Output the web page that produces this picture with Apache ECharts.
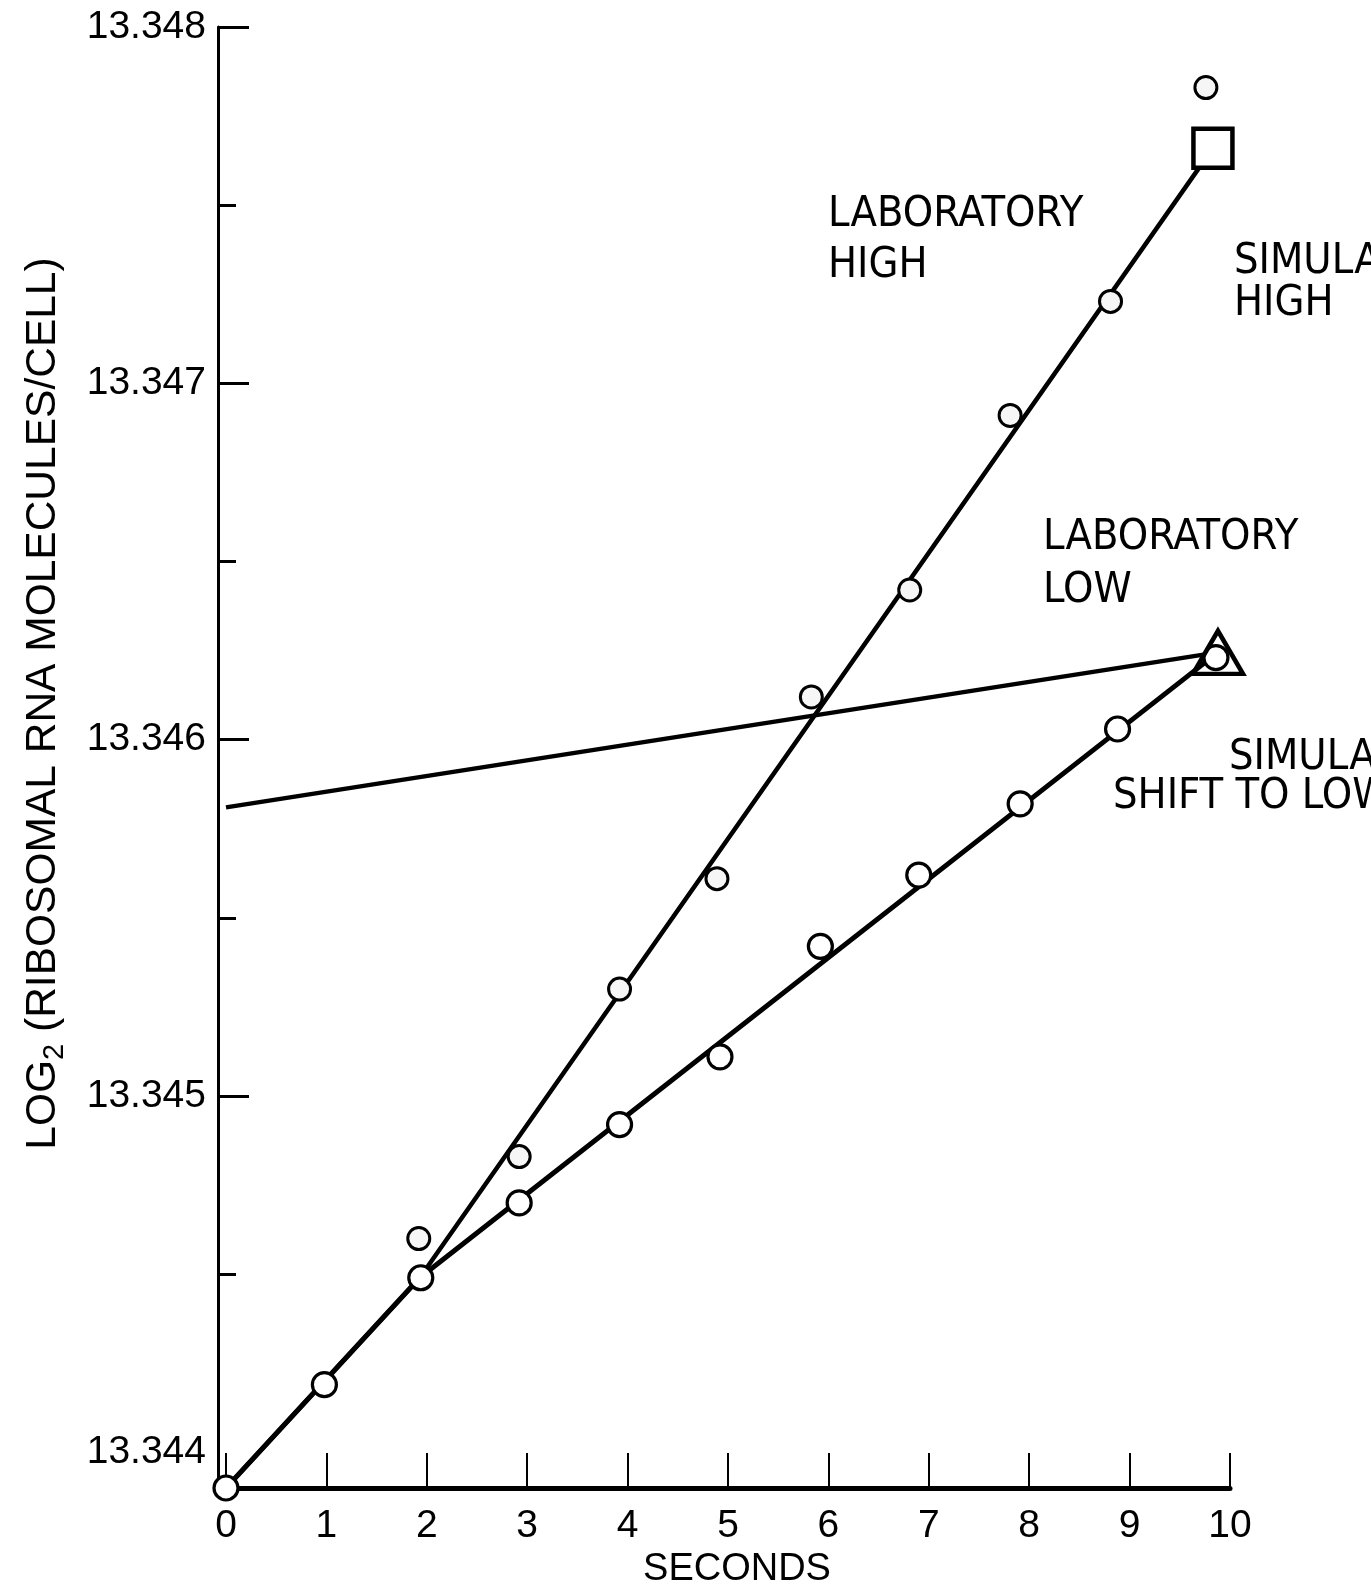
<!DOCTYPE html>
<html>
<head>
<meta charset="utf-8">
<script src="https://cdn.jsdelivr.net/npm/echarts@6/dist/echarts.min.js"></script>
<style>
  html, body { margin: 0; padding: 0; background: #fff; }
  #chart { width: 1371px; height: 1587px; }
</style>
</head>
<body>
<div id="chart"></div>
<script>
// ---- data ----
// Simulated shift to low: open circles
const shiftSeconds = [0, 0.98, 1.94, 2.92, 3.92, 4.92, 5.92, 6.90, 7.91, 8.88, 9.86];
const shiftLog2    = [13.3439, 13.34419, 13.34449, 13.3447, 13.34492, 13.34511, 13.34542, 13.34562, 13.34582, 13.34603, 13.34623];
// Laboratory high: stippled circles
const highSeconds = [1.92, 2.92, 3.92, 4.89, 5.83, 6.81, 7.81, 8.81, 9.76];
const highLog2    = [13.3446, 13.34483, 13.3453, 13.34561, 13.34612, 13.34642, 13.34691, 13.34723, 13.34783];
// Simulated high line (ends at square)
const simHighSeconds = [0, 1.93, 9.83];
const simHighLog2    = [13.3439, 13.34449, 13.34766];
// Simulated shift-to-low line (ends at triangle)
const simShiftSeconds = [0, 1.93, 9.88];
const simShiftLog2    = [13.3439, 13.34449, 13.346245];
// Laboratory low line
const labLowSeconds = [0, 9.88];
const labLowLog2    = [13.34581, 13.346245];
// Axis ticks / labels
const yLabelValues = [13.344, 13.345, 13.346, 13.347, 13.348];
const yMajorTicks  = [13.345, 13.346, 13.347, 13.348];
const yMinorTicks  = [13.3445, 13.3455, 13.3465, 13.3475];
const Y_MIN = 13.3439, Y_MAX = 13.348;

const pairs = (xs, ys) => xs.map((x, i) => [x, ys[i]]);
const last = (xs, ys) => [[xs[xs.length - 1], ys[ys.length - 1]]];

const FONT = "'Liberation Sans', Arial, sans-serif";
const NARROW = "'Liberation Sans Narrow', 'DejaVu Sans Condensed', 'Liberation Sans', sans-serif";
const BLACK = '#000';

const chart = echarts.init(document.getElementById('chart'), null, { renderer: 'canvas' });

function annot(text, x, y) {
  return {
    type: 'text', x: x, y: y, z: 100,
    style: {
      text: text, fill: BLACK,
      font: "43px " + NARROW,
      align: 'left', verticalAlign: 'middle',
      textAlign: 'left', textVerticalAlign: 'middle'
    }
  };
}

const option = {
  animation: false,
  backgroundColor: '#fff',
  grid: { left: 226, right: 141, top: 27, bottom: 99, containLabel: false, outerBoundsMode: 'none' },
  xAxis: {
    type: 'value', min: 0, max: 10, interval: 1,
    axisLine: { show: true, onZero: false, lineStyle: { color: BLACK, width: 5 } },
    axisTick: { show: true, inside: true, length: 35, lineStyle: { color: BLACK, width: 2 } },
    axisLabel: { color: BLACK, fontFamily: FONT, fontSize: 39, margin: 19 },
    splitLine: { show: false },
    name: 'SECONDS', nameLocation: 'middle', nameGap: 63, nameMoveOverlap: false,
    nameTextStyle: { color: BLACK, fontFamily: FONT, fontSize: 38, padding: [0, 0, 0, 18] }
  },
  yAxis: [
    {
      type: 'value', min: Y_MIN, max: Y_MAX, offset: 8,
      axisLine: { show: true, onZero: false, lineStyle: { color: BLACK, width: 3 } },
      axisTick: { show: true, inside: true, length: 31, customValues: yMajorTicks, lineStyle: { color: BLACK, width: 3 } },
      axisLabel: { show: true, customValues: yLabelValues, color: BLACK, fontFamily: FONT, fontSize: 39, margin: 12,
                   formatter: v => Number(v).toFixed(3) },
      splitLine: { show: false },
      name: '{a|LOG}{sub|2}{a| (RIBOSOMAL RNA MOLECULES/CELL)}',
      nameLocation: 'middle', nameRotate: 90, nameGap: 150,
      nameTextStyle: {
        color: BLACK, padding: [0, 0, 0, 108],
        rich: {
          a: { fontFamily: FONT, fontSize: 42.5, color: BLACK, lineHeight: 50 },
          sub: { fontFamily: FONT, fontSize: 29, color: BLACK, padding: [24, 0, 0, 0], lineHeight: 29 }
        }
      }
    },
    {
      type: 'value', min: Y_MIN, max: Y_MAX, offset: 8, position: 'left',
      axisLine: { show: false, onZero: false },
      axisTick: { show: true, inside: true, length: 18, customValues: yMinorTicks, lineStyle: { color: BLACK, width: 3 } },
      axisLabel: { show: false },
      splitLine: { show: false }
    }
  ],
  series: [
    { name: 'Laboratory low', type: 'line', data: pairs(labLowSeconds, labLowLog2), showSymbol: false,
      lineStyle: { color: BLACK, width: 4.5 }, z: 2 },
    { name: 'Simulated high', type: 'line', data: pairs(simHighSeconds, simHighLog2), showSymbol: false,
      lineStyle: { color: BLACK, width: 4.5 }, z: 2 },
    { name: 'Simulated shift to low', type: 'line', data: pairs(simShiftSeconds, simShiftLog2), showSymbol: false,
      lineStyle: { color: BLACK, width: 5 }, z: 2 },
    { name: 'Laboratory high points', type: 'scatter', data: pairs(highSeconds, highLog2), symbol: 'circle', symbolSize: 22,
      itemStyle: { color: '#f6f6f6', borderColor: BLACK, borderWidth: 3, opacity: 1 }, z: 4 },
    { name: 'Shift to low points', type: 'scatter', data: pairs(shiftSeconds, shiftLog2), symbol: 'circle', symbolSize: 24,
      itemStyle: { color: '#fff', borderColor: BLACK, borderWidth: 3.2, opacity: 1 }, z: 4 },
    { name: 'Simulated high end', type: 'scatter', data: last(simHighSeconds, simHighLog2), symbol: 'rect', symbolSize: 39,
      itemStyle: { color: '#fff', borderColor: BLACK, borderWidth: 4.5, opacity: 1 }, z: 5 },
    { name: 'Shift to low end', type: 'scatter', data: last(simShiftSeconds, simShiftLog2), symbol: 'triangle', symbolSize: [50, 43],
      itemStyle: { color: 'rgba(0,0,0,0)', borderColor: BLACK, borderWidth: 4.5, opacity: 1 }, z: 5 }
  ],
  graphic: [
    annot('LABORATORY', 828, 215),
    annot('HIGH', 828, 266),
    annot('SIMULATED', 1234, 262),
    annot('HIGH', 1234, 304),
    annot('LABORATORY', 1043, 538),
    annot('LOW', 1043, 591),
    annot('SIMULATED', 1229, 758),
    annot('SHIFT TO LOW', 1113, 797)
  ]
};
chart.setOption(option);
</script>
</body>
</html>
